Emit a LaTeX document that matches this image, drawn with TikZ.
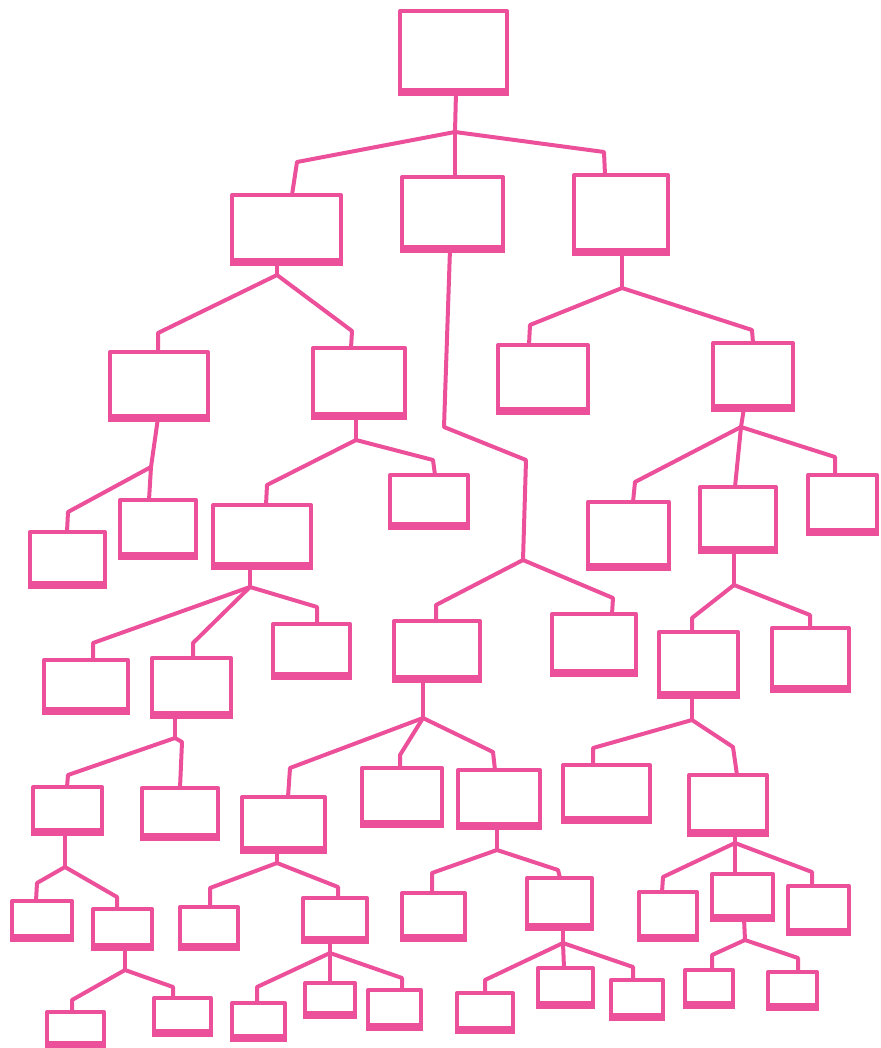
\documentclass[tikz,border=0pt]{standalone}
\usetikzlibrary{fit}
\definecolor{pinkline}{RGB}{236,80,155}
\tikzset{
  box/.style={draw=pinkline, line width=2pt, inner sep=0pt, outer sep=0pt, line join=round, fill=white},
  base/.style={draw=pinkline, line width=3.6pt, line cap=butt},
  link/.style={draw=pinkline, line width=2pt, line join=round, line cap=round},
}
\newcommand\mybox[5]{\node[box, fit={(#2,#3) (#4,#5)}] (#1) {};
  \draw[base] ([xshift=-1pt]#1.south west) -- ([xshift=1pt]#1.south east);}
\begin{document}
\begin{tikzpicture}[x=0.5pt,y=-0.5pt]
\useasboundingbox (0,0) rectangle (880,1048);
% junctions
\coordinate (j0) at (455,132);
\coordinate (jA) at (277,275);
\coordinate (jB) at (523,560);
\coordinate (jC) at (622,288);
\coordinate (jD) at (151,467);
\coordinate (jE) at (356,440);
\coordinate (jG) at (741,427);
\coordinate (jO) at (734,585);
\coordinate (jJ) at (250,587);
\coordinate (jU) at (175,738);
\coordinate (jK) at (423,718);
\coordinate (jQ) at (692,720);
\coordinate (jW) at (65,867);
\coordinate (jW2) at (125,970);
\coordinate (jY) at (277,863);
\coordinate (jY2) at (330,953);
\coordinate (jAA) at (497,850);
\coordinate (jAA2) at (563,943);
\coordinate (jCC) at (735,843);
\coordinate (jCC2) at (745,940);
% boxes
\mybox{R}{400}{11}{507}{92}
\mybox{A}{232}{195}{341}{262}
\mybox{B}{402}{177}{503}{249}
\mybox{C}{574}{175}{668}{252}
\mybox{D}{110}{352}{208}{418}
\mybox{E}{313}{348}{405}{416}
\mybox{F}{498}{345}{588}{411}
\mybox{G}{713}{343}{793}{408}
\mybox{H}{30}{532}{105}{585}
\mybox{I}{120}{500}{196}{556}
\mybox{J}{213}{505}{311}{566}
\mybox{M}{390}{475}{468}{526}
\mybox{N}{588}{502}{669}{567}
\mybox{O}{700}{487}{776}{550}
\mybox{P}{808}{475}{877}{532}
\mybox{K}{394}{621}{480}{679}
\mybox{L}{552}{614}{636}{673}
\mybox{Q}{659}{632}{738}{695}
\mybox{S}{772}{628}{849}{689}
\mybox{T}{44}{660}{128}{711}
\mybox{U}{152}{658}{231}{715}
\mybox{V}{273}{624}{350}{676}
\mybox{W}{33}{787}{102}{832}
\mybox{X}{142}{788}{218}{837}
\mybox{Y}{242}{797}{325}{850}
\mybox{Z}{362}{768}{442}{824}
\mybox{AA}{458}{770}{540}{826}
\mybox{BB}{563}{765}{650}{820}
\mybox{CC}{689}{775}{767}{833}
\mybox{W1}{12}{901}{72}{938}
\mybox{W2}{93}{909}{152}{947}
\mybox{W3}{47}{1012}{104}{1045}
\mybox{W4}{154}{998}{211}{1033}
\mybox{Y1}{180}{907}{238}{947}
\mybox{Y2}{303}{898}{367}{940}
\mybox{Y3}{232}{1003}{285}{1038}
\mybox{Y4}{305}{983}{355}{1015}
\mybox{Y5}{368}{990}{421}{1027}
\mybox{AA1}{402}{893}{465}{938}
\mybox{AA2}{527}{878}{592}{927}
\mybox{AA3}{457}{993}{513}{1030}
\mybox{AA4}{538}{968}{593}{1005}
\mybox{AA5}{611}{980}{663}{1017}
\mybox{CC1}{639}{892}{697}{938}
\mybox{CC2}{712}{874}{773}{918}
\mybox{CC3}{788}{886}{849}{932}
\mybox{CC4}{685}{970}{733}{1005}
\mybox{CC5}{768}{972}{817}{1007}
% connectors
\begin{scope}[link]
\draw (R.south -| 456,0) -- (j0);
\draw (j0) -- (297,162) -- (292,162 |- A.north);
\draw (j0) -- (j0 |- B.north);
\draw (j0) -- (604,152) -- (605,152 |- C.north);
\draw (A.south -| jA) -- (jA);
\draw (jA) -- (158,333) -- (158,333 |- D.north);
\draw (jA) -- (352,331) -- (351,331 |- E.north);
\draw (B.south -| 450,0) -- (444,427) -- (526,460) -- (jB);
\draw (jB) -- (436,605) -- (436,605 |- K.north);
\draw (jB) -- (613,598) -- (612,598 |- L.north);
\draw (C.south -| jC) -- (jC);
\draw (jC) -- (530,325) -- (529,325 |- F.north);
\draw (jC) -- (752,330) -- (753,330 |- G.north);
\draw (D.south -| 158,0) -- (jD) -- (149,0 |- I.north);
\draw (jD) -- (68,512) -- (67,512 |- H.north);
\draw (E.south -| jE) -- (jE);
\draw (jE) -- (267,485) -- (266,485 |- J.north);
\draw (jE) -- (433,460) -- (435,460 |- M.north);
\draw (G.south -| 744,0) -- (jG);
\draw (jG) -- (635,482) -- (633,482 |- N.north);
\draw (jG) -- (735,0 |- O.north);
\draw (jG) -- (835,457) -- (835,457 |- P.north);
\draw (O.south -| jO) -- (jO);
\draw (jO) -- (692,618) -- (692,618 |- Q.north);
\draw (jO) -- (810,615) -- (810,615 |- S.north);
\draw (J.south -| jJ) -- (jJ);
\draw (jJ) -- (93,643) -- (93,643 |- T.north);
\draw (jJ) -- (193,643) -- (193,643 |- U.north);
\draw (jJ) -- (317,607) -- (317,607 |- V.north);
\draw (U.south -| jU) -- (jU);
\draw (jU) -- (68,775) -- (67,775 |- W.north);
\draw (jU) -- (182,742) -- (180,742 |- X.north);
\draw (K.south -| jK) -- (jK);
\draw (jK) -- (290,768) -- (288,768 |- Y.north);
\draw (jK) -- (400,755) -- (400,755 |- Z.north);
\draw (jK) -- (493,752) -- (495,752 |- AA.north);
\draw (Q.south -| jQ) -- (jQ);
\draw (jQ) -- (593,748) -- (593,748 |- BB.north);
\draw (jQ) -- (733,747) -- (737,747 |- CC.north);
\draw (W.south -| jW) -- (jW);
\draw (jW) -- (37,883) -- (36,883 |- W1.north);
\draw (jW) -- (117,897) -- (117,897 |- W2.north);
\draw (W2.south -| jW2) -- (jW2);
\draw (jW2) -- (72,1000) -- (72,1000 |- W3.north);
\draw (jW2) -- (173,987) -- (173,987 |- W4.north);
\draw (Y.south -| jY) -- (jY);
\draw (jY) -- (210,888) -- (210,888 |- Y1.north);
\draw (jY) -- (338,887) -- (338,887 |- Y2.north);
\draw (Y2.south -| jY2) -- (jY2);
\draw (jY2) -- (257,987) -- (257,987 |- Y3.north);
\draw (jY2) -- (jY2 |- Y4.north);
\draw (jY2) -- (402,978) -- (402,978 |- Y5.north);
\draw (AA.south -| jAA) -- (jAA);
\draw (jAA) -- (432,873) -- (432,873 |- AA1.north);
\draw (jAA) -- (558,870) -- (560,870 |- AA2.north);
\draw (AA2.south -| jAA2) -- (jAA2);
\draw (jAA2) -- (485,980) -- (485,980 |- AA3.north);
\draw (jAA2) -- (564,0 |- AA4.north);
\draw (jAA2) -- (633,967) -- (633,967 |- AA5.north);
\draw (CC.south -| jCC) -- (jCC);
\draw (jCC) -- (663,877) -- (662,877 |- CC1.north);
\draw (jCC) -- (jCC |- CC2.north);
\draw (jCC) -- (812,872) -- (812,872 |- CC3.north);
\draw (CC2.south -| 744,0) -- (jCC2);
\draw (jCC2) -- (712,955) -- (712,955 |- CC4.north);
\draw (jCC2) -- (798,958) -- (798,958 |- CC5.north);
\end{scope}
\end{tikzpicture}
\end{document}
